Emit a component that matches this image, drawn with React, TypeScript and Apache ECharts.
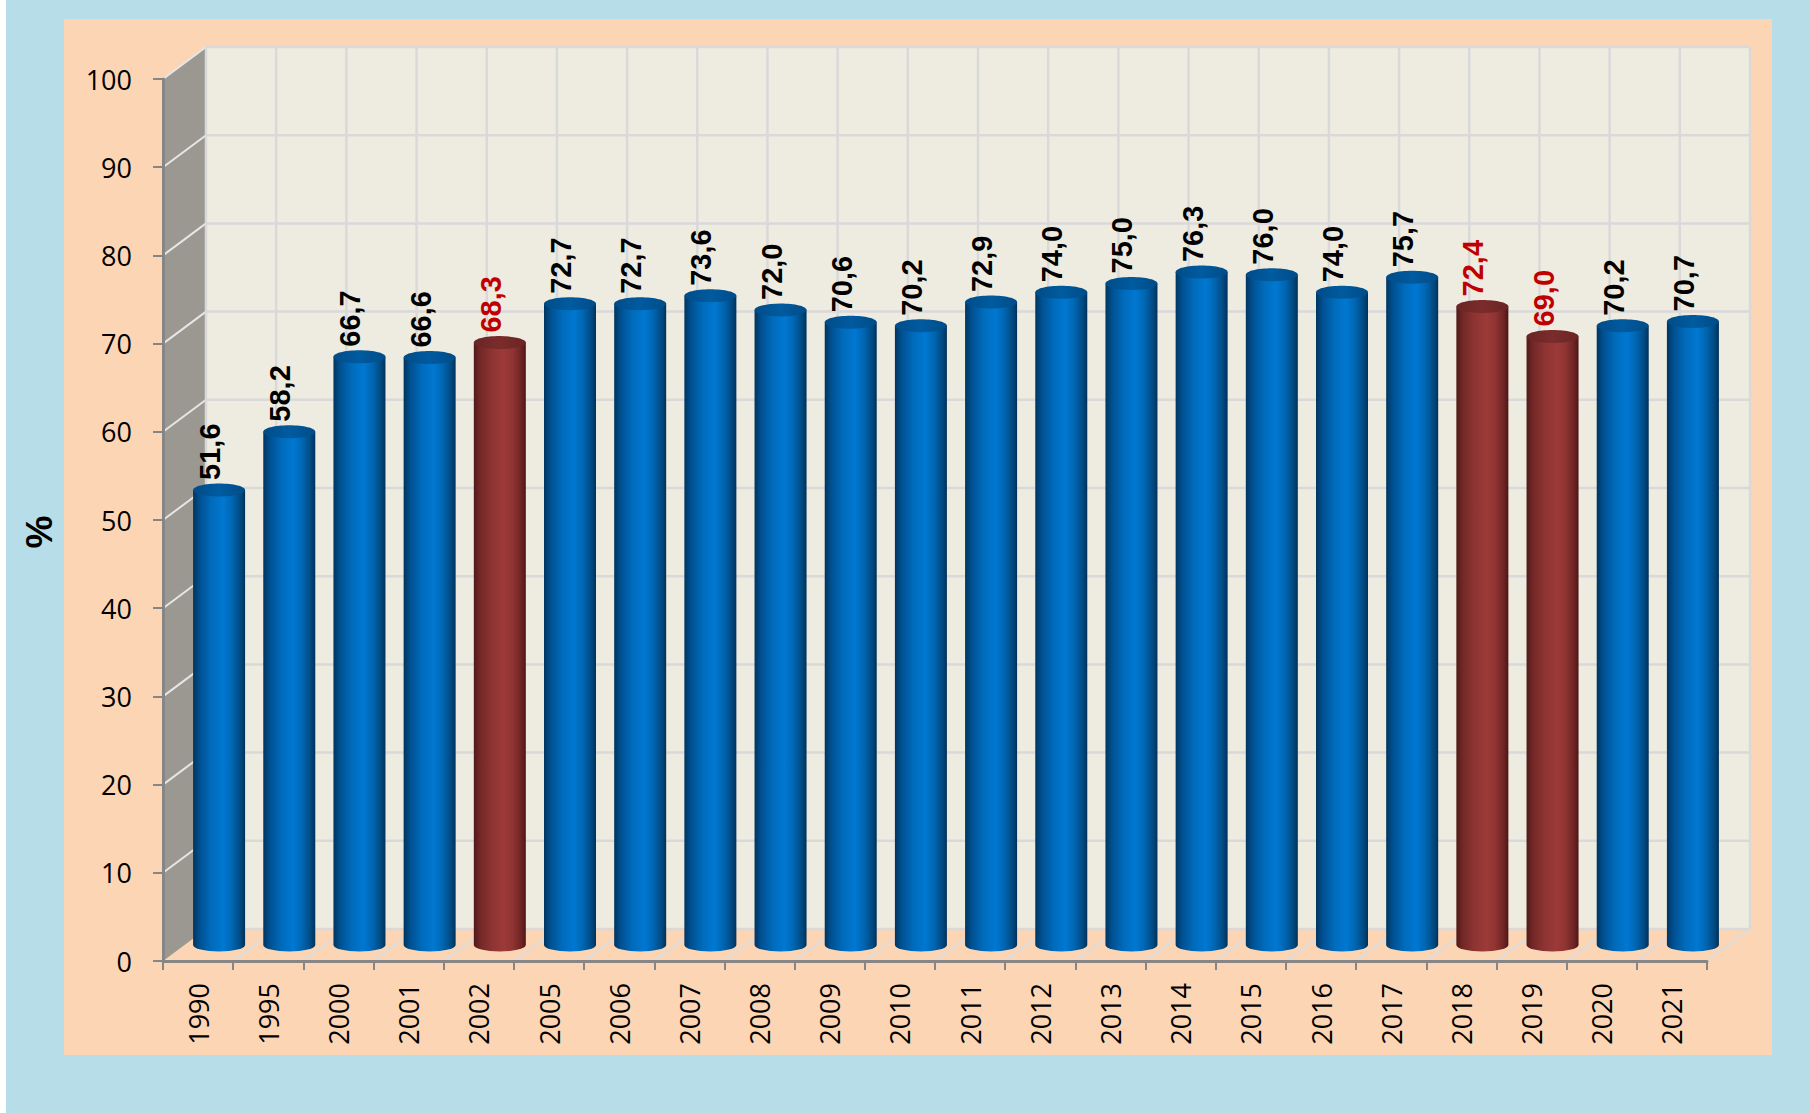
import React, { useEffect, useRef } from "react";
import * as echarts from "echarts";

// ---------- data ----------
const years = [
  "1990", "1995", "2000", "2001", "2002", "2005", "2006", "2007", "2008", "2009", "2010",
  "2011", "2012", "2013", "2014", "2015", "2016", "2017", "2018", "2019", "2020", "2021",
];
const values = [
  51.6, 58.2, 66.7, 66.6, 68.3, 72.7, 72.7, 73.6, 72.0, 70.6, 70.2,
  72.9, 74.0, 75.0, 76.3, 76.0, 74.0, 75.7, 72.4, 69.0, 70.2, 70.7,
];
const highlightedYears = ["2002", "2018", "2019"];
const yTicks = [0, 10, 20, 30, 40, 50, 60, 70, 80, 90, 100];
const yAxisTitle = "%";

// ---------- layout / style constants ----------
const W = 1810;
const H = 1113;
const DX = 43; // depth offset of back wall
const DY = -32;
const BAR_DX = 21; // bars sit at mid depth
const BAR_DY = -16;
const BAR_RX = 26;
const BAR_RY = 6.5;

const BLUE_BODY = [
  { offset: 0, color: "#00355f" },
  { offset: 0.12, color: "#004f8f" },
  { offset: 0.35, color: "#006bbb" },
  { offset: 0.58, color: "#0078d2" },
  { offset: 0.75, color: "#0066b2" },
  { offset: 0.92, color: "#00487f" },
  { offset: 1, color: "#003158" },
];
const RED_BODY = [
  { offset: 0, color: "#511918" },
  { offset: 0.12, color: "#722827" },
  { offset: 0.35, color: "#8e3432" },
  { offset: 0.58, color: "#9c3a38" },
  { offset: 0.75, color: "#8f3432" },
  { offset: 0.92, color: "#6b2322" },
  { offset: 1, color: "#4c1615" },
];

const fmt = (v: number) => v.toFixed(1).replace(".", ",");

function wallsRender(params: any, api: any) {
  const bw = api.size([1, 0])[0];
  const c0 = api.coord([0, 0]);
  const left = c0[0] - bw / 2;
  const right = left + bw * years.length;
  const bottom = c0[1];
  const top = api.coord([0, 100])[1];
  const children: any[] = [];
  children.push({
    type: "polygon",
    shape: { points: [[left, top], [left + DX, top + DY], [left + DX, bottom + DY], [left, bottom]] },
    style: { fill: "#9a9891" },
  });
  children.push({
    type: "rect",
    shape: { x: left + DX, y: top + DY, width: right - left, height: bottom - top },
    style: { fill: "#eeece1" },
  });
  yTicks.forEach((v) => {
    const y = api.coord([0, v])[1];
    children.push({
      type: "line",
      shape: { x1: left + DX, y1: y + DY, x2: right + DX, y2: y + DY },
      style: { stroke: "#d9d9d9", lineWidth: 2.5 },
    });
    if (v > 0) {
      children.push({
        type: "line",
        shape: { x1: left, y1: y, x2: left + DX, y2: y + DY },
        style: { stroke: "#e6e6e6", lineWidth: 2 },
      });
    }
  });
  for (let i = 0; i <= years.length; i++) {
    const x = left + i * bw;
    children.push({
      type: "line",
      shape: { x1: x + DX, y1: top + DY, x2: x + DX, y2: bottom + DY },
      style: { stroke: "#d9d9d9", lineWidth: 2.5 },
    });
    if (i > 0) {
      children.push({
        type: "line",
        shape: { x1: x, y1: bottom, x2: x + DX, y2: bottom + DY },
        style: { stroke: "#dcdcdc", lineWidth: 2 },
      });
    }
  }
  return { type: "group", children };
}

function barsRender(params: any, api: any) {
  const i = api.value(0);
  const v = api.value(1);
  const topPt = api.coord([i, v]);
  const basePt = api.coord([i, 0]);
  const cx = topPt[0] + BAR_DX;
  const ty = topPt[1] + BAR_DY;
  const by = basePt[1] + BAR_DY;
  const red = highlightedYears.includes(years[i]);
  const l = cx - BAR_RX;
  const r = cx + BAR_RX;
  const body =
    `M ${l} ${ty} L ${l} ${by} A ${BAR_RX} ${BAR_RY} 0 0 0 ${r} ${by} L ${r} ${ty} Z`;
  return {
    type: "group",
    children: [
      {
        type: "path",
        shape: { pathData: body },
        style: {
          fill: new echarts.graphic.LinearGradient(0, 0, 1, 0, red ? RED_BODY : BLUE_BODY),
        },
      },
      {
        type: "ellipse",
        shape: { cx, cy: ty, rx: BAR_RX, ry: BAR_RY },
        style: {
          fill: new echarts.graphic.LinearGradient(0, 0, 1, 0, red
            ? [
                { offset: 0, color: "#6a2524" },
                { offset: 0.5, color: "#7a2c2b" },
                { offset: 1, color: "#6a2524" },
              ]
            : [
                { offset: 0, color: "#004c88" },
                { offset: 0.5, color: "#005b9f" },
                { offset: 1, color: "#004c88" },
              ]),
        },
      },
      {
        type: "text",
        x: cx - 9,
        y: ty - 10,
        rotation: Math.PI / 2,
        style: {
          text: fmt(v),
          fill: red ? "#c00000" : "#000000",
          fontSize: 29,
          fontWeight: "bold",
          fontFamily: "Liberation Sans, Arial, sans-serif",
          align: "left",
          verticalAlign: "middle",
        },
      },
    ],
  };
}

const option: any = {
  animation: false,
  backgroundColor: "#b7dde8",
  graphic: {
    elements: [
      { type: "rect", z: -10, shape: { x: 0, y: 0, width: 6, height: H }, style: { fill: "#ffffff" } },
      { type: "rect", z: -10, shape: { x: 64, y: 19, width: 1708, height: 1036 }, style: { fill: "#fcd5b5" } },
      {
        type: "text",
        x: 39,
        y: 532,
        rotation: Math.PI / 2,
        style: {
          text: yAxisTitle,
          fill: "#000",
          fontSize: 37,
          fontWeight: "bold",
          fontFamily: "Liberation Sans, Arial, sans-serif",
          align: "center",
          verticalAlign: "middle",
        },
      },
    ],
  },
  grid: { left: 163, top: 79, right: W - 1707, bottom: H - 961, containLabel: false },
  xAxis: {
    type: "category",
    data: years,
    boundaryGap: true,
    z: 5,
    axisLine: { show: true, lineStyle: { color: "#868686", width: 3 } },
    axisTick: { show: true, length: 9, lineStyle: { color: "#868686", width: 2 } },
    axisLabel: {
      rotate: 90,
      margin: 22,
      interval: 0,
      color: "#000",
      fontFamily: "Open Sans",
      fontSize: 27,
    },
    splitLine: { show: false },
  },
  yAxis: {
    type: "value",
    min: 0,
    max: 100,
    interval: 10,
    z: 5,
    axisLine: { show: true, lineStyle: { color: "#868686", width: 3 } },
    axisTick: { show: true, length: 10, lineStyle: { color: "#868686", width: 2 } },
    axisLabel: { margin: 31, color: "#000", fontFamily: "Open Sans", fontSize: 27 },
    splitLine: { show: false },
  },
  series: [
    {
      type: "custom",
      name: "walls",
      silent: true,
      clip: false,
      z: 1,
      renderItem: wallsRender,
      data: [[0, 0]],
    },
    {
      type: "custom",
      name: "bars",
      silent: true,
      clip: false,
      z: 3,
      renderItem: barsRender,
      data: values.map((v, i) => [i, v]),
    },
  ],
};

export default function App() {
  const ref = useRef<HTMLDivElement>(null);
  useEffect(() => {
    document.body.style.margin = "0";
    const chart = echarts.init(ref.current!, null, { renderer: "svg" });
    chart.setOption(option);
    return () => chart.dispose();
  }, []);
  return <div ref={ref} style={{ width: W, height: H, position: "absolute", left: 0, top: 0 }} />;
}
